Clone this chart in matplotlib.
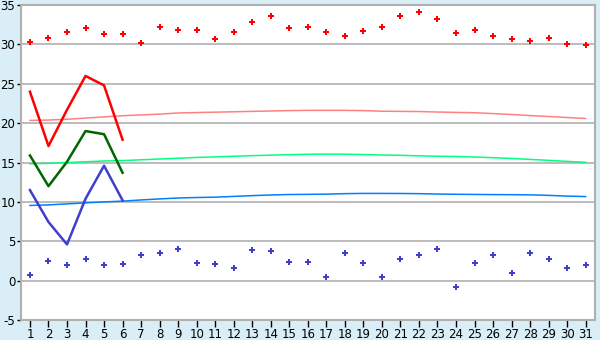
import matplotlib
matplotlib.use("Agg")
import matplotlib.pyplot as plt

plt.rcParams["axes.unicode_minus"] = False

DAYS = list(range(1, 32))

# daily maximum / minimum (diamond markers)
T_MAX = [30.3, 30.8, 31.55, 32.05, 31.3, 31.3, 30.15, 32.2, 31.8, 31.8,
         30.65, 31.55, 32.8, 33.6, 32.05, 32.2, 31.55, 31.05, 31.7, 32.2,
         33.6, 34.1, 33.2, 31.4, 31.8, 31.05, 30.65, 30.4, 30.8, 30.05, 29.9]
T_MIN = [0.75, 2.55, 2.05, 2.8, 2.05, 2.15, 3.2, 3.45, 4.05, 2.3,
         2.15, 1.65, 3.95, 3.8, 2.4, 2.4, 0.5, 3.55, 2.3, 0.4,
         2.8, 3.2, 4.05, -0.75, 2.3, 3.3, 1.0, 3.45, 2.8, 1.55, 2.05]

# normals (thin lines)
NORM_HI = [20.35, 20.4, 20.5, 20.65, 20.8, 20.95, 21.05, 21.15, 21.3, 21.35,
           21.4, 21.45, 21.5, 21.55, 21.6, 21.63, 21.63, 21.63, 21.6, 21.52,
           21.5, 21.48, 21.42, 21.37, 21.33, 21.22, 21.1, 20.97, 20.85, 20.72, 20.6]
NORM_MID = [14.84, 14.9, 15.0, 15.1, 15.2, 15.25, 15.35, 15.45, 15.55, 15.65,
            15.72, 15.8, 15.88, 15.94, 16.0, 16.05, 16.07, 16.06, 16.02, 15.96,
            15.92, 15.85, 15.8, 15.77, 15.7, 15.62, 15.52, 15.4, 15.28, 15.15, 15.03]
NORM_LO = [9.55, 9.62, 9.75, 9.88, 10.0, 10.1, 10.25, 10.38, 10.5, 10.56,
           10.6, 10.7, 10.8, 10.88, 10.94, 10.96, 10.99, 11.05, 11.08, 11.08,
           11.07, 11.05, 11.0, 10.97, 10.95, 10.93, 10.92, 10.9, 10.83, 10.74, 10.68]

# current values, first six days only (thick lines)
CUR_DAYS = [1, 2, 3, 4, 5, 6]
CUR_HI = [24.0, 17.1, 21.7, 26.0, 24.8, 17.9]
CUR_MID = [15.9, 12.0, 15.1, 19.0, 18.6, 13.7]
CUR_LO = [11.5, 7.45, 4.6, 10.4, 14.6, 10.2]

BG = "#D9EEF6"
GRID = "#B0B0B0"

fig = plt.figure(figsize=(6, 3.4), dpi=100, facecolor=BG)
ax = fig.add_axes([0.0345, 0.0588, 0.957, 0.9262])
ax.set_facecolor("white")

ax.set_xlim(0.5, 31.5)
ax.set_ylim(-5, 35)
ax.set_yticks(range(-5, 36, 5))
ax.set_xticks(DAYS)
ax.grid(axis="y", color=GRID, linewidth=1.2)
ax.set_axisbelow(True)

ax.plot(DAYS, NORM_HI, color="#FF8080", linewidth=1.1)
ax.plot(DAYS, NORM_MID, color="#00FF80", linewidth=1.1)
ax.plot(DAYS, NORM_LO, color="#0080FF", linewidth=1.1)

ax.plot(CUR_DAYS, CUR_HI, color="#FF0000", linewidth=1.8)
ax.plot(CUR_DAYS, CUR_MID, color="#006600", linewidth=1.8)
ax.plot(CUR_DAYS, CUR_LO, color="#3F3FCC", linewidth=1.8)

ax.plot(DAYS, T_MAX, linestyle="", marker="P", markersize=5,
        color="#FF0000", markeredgewidth=0)
ax.plot(DAYS, T_MIN, linestyle="", marker="P", markersize=5,
        color="#3F3FCC", markeredgewidth=0)

for s in ax.spines.values():
    s.set_color(GRID)
    s.set_linewidth(1.5)

ax.tick_params(axis="y", direction="out", length=3, width=1, color="black",
               labelsize=8.5, pad=1)
ax.tick_params(axis="x", direction="out", length=5, width=1, color="black",
               labelsize=8.5, pad=1)

fig.savefig("out.png", dpi=100, facecolor=BG)
